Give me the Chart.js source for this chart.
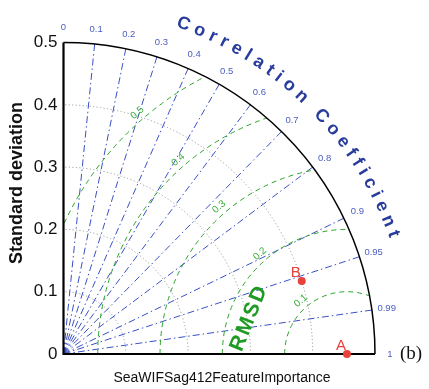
<!DOCTYPE html>
<html>
<head>
<meta charset="utf-8">
<script src="https://cdn.jsdelivr.net/npm/chart.js@4/dist/chart.umd.min.js"></script>
<style>
  html, body { margin: 0; padding: 0; background: #ffffff; }
  canvas { display: block; }
</style>
</head>
<body>
<canvas id="taylor" width="429" height="389"></canvas>
<script>
// Taylor diagram: models placed by standard deviation (radius) and correlation (angle)
const modelNames = ['A', 'B'];
const modelStd = [0.455, 0.400];
const modelCorr = [1.0, 0.956];
const refStd = 0.455;                       // reference (observed) standard deviation
const stdTicks = [0, 0.1, 0.2, 0.3, 0.4, 0.5];
const stdArcs = [0.1, 0.2, 0.3, 0.4];
const stdMax = 0.5;
const corrTicks = [0, 0.1, 0.2, 0.3, 0.4, 0.5, 0.6, 0.7, 0.8, 0.9, 0.95, 0.99, 1];
const corrRays = [0.1, 0.2, 0.3, 0.4, 0.5, 0.6, 0.7, 0.8, 0.9, 0.95, 0.99];
const rmsdLevels = [0.1, 0.2, 0.3, 0.4, 0.5];

const FONT = '"Liberation Sans", Arial, Helvetica, sans-serif';
const BLUE_LINE = '#3a50c4';
const BLUE_TEXT = '#4b5dbf';
const BLUE_TITLE = '#283c9c';
const GREEN_LINE = '#2aa52a';
const GREEN_TEXT = '#37ad37';
const GREEN_TITLE = '#1f9a22';
const RED = '#e8423b';

// polar (std, corr) -> cartesian data coordinates
function toXY(std, corr) {
  const th = Math.acos(corr);
  return { x: std * Math.cos(th), y: std * Math.sin(th) };
}

const points = modelStd.map((s, i) => toXY(s, modelCorr[i]));

function geom(chart) {
  const xs = chart.scales.x, ys = chart.scales.y;
  const ox = xs.getPixelForValue(0), oy = ys.getPixelForValue(0);
  const unit = xs.getPixelForValue(1) - ox;
  return { ox, oy, unit, px: (x, y) => [ox + x * unit, oy - y * unit] };
}

function quarterClip(ctx, g) {
  ctx.beginPath();
  ctx.moveTo(g.ox, g.oy);
  ctx.lineTo(g.ox + stdMax * g.unit, g.oy);
  ctx.arc(g.ox, g.oy, stdMax * g.unit, 0, -Math.PI / 2, true);
  ctx.closePath();
  ctx.clip();
}

function arcText(ctx, text, g, radius, startDeg, endDeg) {
  const chars = [...text];
  const w = chars.map(c => ctx.measureText(c).width);
  const n = chars.length;
  const arcLen = radius * (startDeg - endDeg) * Math.PI / 180;
  let inner = 0;
  for (let i = 0; i < n - 1; i++) inner += w[i];
  inner += w[n - 1] / 2 - w[0] / 2;
  const sp = (arcLen - inner) / (n - 1);
  let s = 0;
  const a0 = startDeg * Math.PI / 180;
  for (let i = 0; i < n; i++) {
    if (i > 0) s += w[i - 1] / 2 + sp + w[i] / 2;
    const a = a0 - s / radius;
    const x = g.ox + radius * Math.cos(a);
    const y = g.oy - radius * Math.sin(a);
    ctx.save();
    ctx.translate(x, y);
    ctx.rotate(Math.PI / 2 - a);
    ctx.fillText(chars[i], 0, 0);
    ctx.restore();
  }
}

const taylorPlugin = {
  id: 'taylorGrid',
  beforeDatasetsDraw(chart) {
    const ctx = chart.ctx;
    const g = geom(chart);
    const R = stdMax * g.unit;

    // standard deviation arcs (grey dotted)
    ctx.save();
    ctx.strokeStyle = '#8a8a8a';
    ctx.lineWidth = 1;
    ctx.setLineDash([1, 2.5]);
    stdArcs.forEach(s => {
      ctx.beginPath();
      ctx.arc(g.ox, g.oy, s * g.unit, 0, -Math.PI / 2, true);
      ctx.stroke();
    });
    ctx.restore();

    // correlation rays (blue dash-dot)
    ctx.save();
    ctx.strokeStyle = BLUE_LINE;
    ctx.lineWidth = 1;
    ctx.setLineDash([7, 3, 1.5, 3]);
    corrRays.forEach(c => {
      const th = Math.acos(c);
      ctx.beginPath();
      ctx.moveTo(g.ox, g.oy);
      ctx.lineTo(g.ox + R * Math.cos(th), g.oy - R * Math.sin(th));
      ctx.stroke();
    });
    ctx.restore();

    // centred RMS difference arcs (green dashed) around the reference point
    ctx.save();
    quarterClip(ctx, g);
    ctx.strokeStyle = GREEN_LINE;
    ctx.lineWidth = 1;
    ctx.setLineDash([5, 4]);
    const [rx, ry] = g.px(refStd, 0);
    rmsdLevels.forEach(r => {
      ctx.beginPath();
      ctx.arc(rx, ry, r * g.unit, Math.PI, 0, false);
      ctx.stroke();
    });
    ctx.restore();

    // outer boundary and axes
    ctx.save();
    ctx.strokeStyle = '#000';
    ctx.lineWidth = 1.5;
    ctx.beginPath();
    ctx.arc(g.ox, g.oy, R, 0, -Math.PI / 2, true);
    ctx.stroke();
    ctx.lineWidth = 2.2;
    ctx.beginPath();
    ctx.moveTo(g.ox, g.oy - R);
    ctx.lineTo(g.ox, g.oy);
    ctx.lineTo(g.ox + R, g.oy);
    ctx.stroke();
    ctx.restore();

    // correlation tick labels
    ctx.save();
    ctx.fillStyle = BLUE_TEXT;
    ctx.font = '9.5px ' + FONT;
    ctx.textAlign = 'center';
    ctx.textBaseline = 'middle';
    corrTicks.forEach(c => {
      const th = Math.acos(c);
      const rr = 0.524 * g.unit;
      ctx.fillText(String(c), g.ox + rr * Math.cos(th), g.oy - rr * Math.sin(th));
    });
    ctx.restore();

    // curved axis title
    ctx.save();
    ctx.fillStyle = BLUE_TITLE;
    ctx.font = 'bold 18px ' + FONT;
    ctx.textAlign = 'center';
    ctx.textBaseline = 'middle';
    arcText(ctx, 'Correlation Coefficient', g, 351, 70, 20);
    ctx.restore();

    // RMSD level labels
    ctx.save();
    ctx.fillStyle = GREEN_TEXT;
    ctx.font = '10px ' + FONT;
    ctx.textAlign = 'center';
    ctx.textBaseline = 'middle';
    const phi = 131 * Math.PI / 180;
    rmsdLevels.forEach(r => {
      const rr = (r + 0.013) * g.unit;
      const x = rx + rr * Math.cos(phi);
      const y = ry - rr * Math.sin(phi);
      ctx.save();
      ctx.translate(x, y);
      ctx.rotate(-(phi - Math.PI / 2));
      ctx.fillText(String(r), 0, 0);
      ctx.restore();
    });
    ctx.restore();

    // RMSD title
    ctx.save();
    ctx.fillStyle = GREEN_TITLE;
    ctx.font = 'bold 21px ' + FONT;
    ctx.textAlign = 'center';
    ctx.textBaseline = 'middle';
    if ('letterSpacing' in ctx) ctx.letterSpacing = '2px';
    const [tx, ty] = g.px(0.298, 0.058);
    ctx.translate(tx, ty);
    ctx.rotate(-68 * Math.PI / 180);
    ctx.fillText('RMSD', 0, 0);
    ctx.restore();

    // axis titles and panel tag
    ctx.save();
    ctx.fillStyle = '#111';
    ctx.textAlign = 'center';
    ctx.textBaseline = 'middle';
    ctx.font = '14px ' + FONT;
    ctx.fillText('SeaWIFSag412FeatureImportance', 222, 378);
    ctx.font = 'bold 18px ' + FONT;
    ctx.translate(17, 183);
    ctx.rotate(-Math.PI / 2);
    ctx.fillText('Standard deviation', 0, 0);
    ctx.restore();

    ctx.save();
    ctx.fillStyle = '#111';
    ctx.font = '19px "Liberation Serif", "Times New Roman", serif';
    ctx.textAlign = 'center';
    ctx.textBaseline = 'middle';
    ctx.fillText('(b)', 411, 354);
    ctx.restore();
  },
  afterDatasetsDraw(chart) {
    const ctx = chart.ctx;
    const meta = chart.getDatasetMeta(0);
    ctx.save();
    ctx.fillStyle = RED;
    ctx.font = '15px ' + FONT;
    ctx.textAlign = 'center';
    ctx.textBaseline = 'middle';
    meta.data.forEach((el, i) => {
      ctx.fillText(modelNames[i], el.x - 6, el.y - 8.5);
    });
    ctx.restore();
  }
};

new Chart(document.getElementById('taylor'), {
  type: 'scatter',
  data: {
    datasets: [{
      label: 'models',
      data: points,
      backgroundColor: RED,
      borderWidth: 0,
      pointRadius: 4,
      pointHoverRadius: 4,
      clip: false
    }]
  },
  options: {
    responsive: false,
    animation: false,
    events: [],
    layout: { padding: { left: 0, top: 42.7, right: 54, bottom: 35 } },
    plugins: { legend: { display: false }, tooltip: { enabled: false } },
    scales: {
      x: { type: 'linear', min: 0, max: stdMax, display: false },
      y: {
        type: 'linear', min: 0, max: stdMax,
        afterBuildTicks: s => { s.ticks = stdTicks.map(v => ({ value: v })); },
        afterFit: s => { s.width = 63.5; },
        grid: { display: false, drawTicks: false },
        border: { display: false },
        ticks: {
          padding: 6,
          color: '#111',
          font: { family: FONT, size: 17 },
          callback: v => String(v)
        }
      }
    }
  },
  plugins: [taylorPlugin]
});
</script>
</body>
</html>
